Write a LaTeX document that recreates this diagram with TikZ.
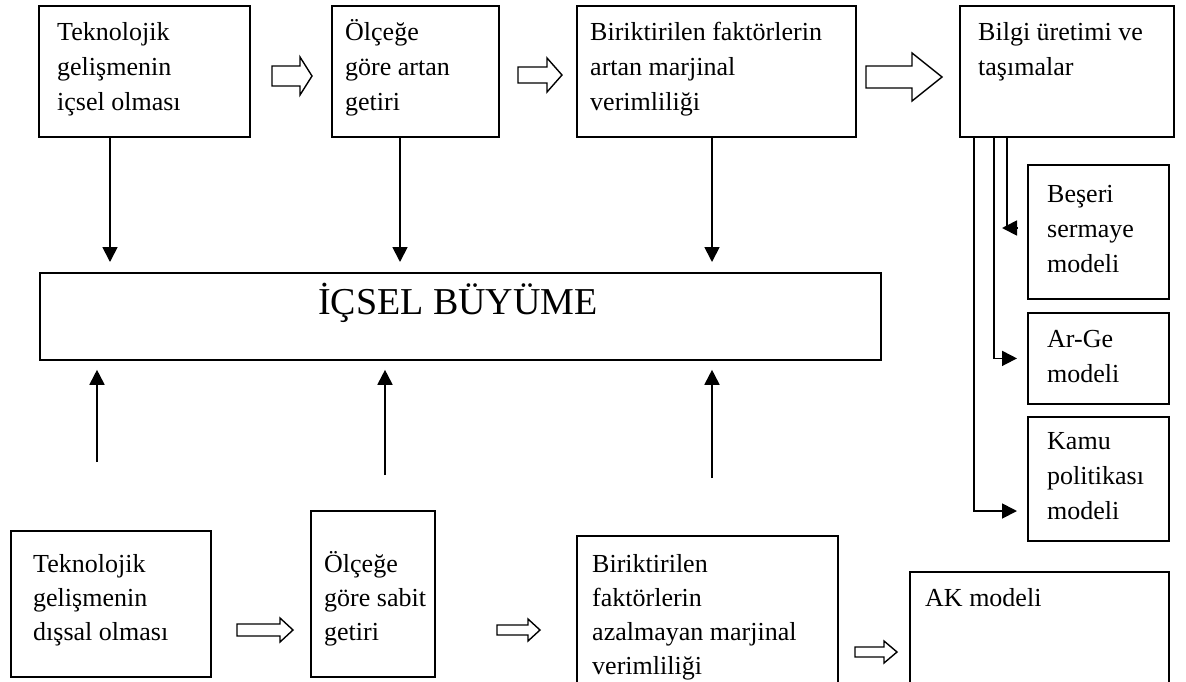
\documentclass[tikz,border=0pt]{standalone}
\usepackage{fontspec}
\setmainfont{Liberation Serif}
\usetikzlibrary{arrows.meta,calc}
\newcommand{\harr}[7]{% name, x1, x2, y, headstart, shaft half, head half
  \draw[hollow] (#2,#4-#6) -- (#5,#4-#6) -- (#5,#4-#7) -- (#3,#4) -- (#5,#4+#7) -- (#5,#4+#6) -- (#2,#4+#6) -- cycle;
  \coordinate (#1) at (#3,#4);}
\begin{document}
\begin{tikzpicture}[x=1pt,y=-1pt,
  box/.style={draw, line width=1.8pt, inner sep=0pt, anchor=north west},
  txt/.style={anchor=north west, inner sep=0pt, align=left, font=\fontsize{26}{35}\selectfont},
  btxt/.style={anchor=north west, inner sep=0pt, align=left, font=\fontsize{26}{34}\selectfont},
  conn/.style={line width=1.8pt, -{Triangle[length=15pt,width=15pt]}},
  plain/.style={line width=1.8pt},
  hollow/.style={line width=1.4pt, line join=miter, fill=white}]
\useasboundingbox (0,0) rectangle (1186,681);
\clip (0,0) rectangle (1186,681);
\fill[white] (0,0) rectangle (1186,681);

% top row
\node[box, minimum width=211pt, minimum height=131pt] (b1) at (38,5) {};
\node[txt] (t1) at (57,16) {\strut Teknolojik\\gelişmenin\\içsel olması};
\node[box, minimum width=167pt, minimum height=131pt] (b2) at (331,5) {};
\node[txt] (t2) at (345,16) {\strut Ölçeğe\\göre artan\\getiri};
\node[box, minimum width=279pt, minimum height=131pt] (b3) at (576,5) {};
\node[txt] (t3) at (590,16) {\strut Biriktirilen faktörlerin\\artan marjinal\\verimliliği};
\node[box, minimum width=214pt, minimum height=131pt] (b4) at (959,5) {};
\node[txt] (t4) at (978,16) {\strut Bilgi üretimi ve\\taşımalar};

\harr{a1}{272}{312}{76}{300}{10}{19}
\harr{a2}{518}{562}{75}{547}{8}{17}
\harr{a3}{866}{942}{77}{912}{11}{24}

% central box
\node[box, minimum width=841pt, minimum height=87pt] (cen) at (39,272) {};
\node[font=\fontsize{38}{42}\selectfont] (ct) at (458,303) {İÇSEL BÜYÜME};

% right column
\node[box, minimum width=141pt, minimum height=134pt] (b5) at (1027,164) {};
\node[txt] (t5) at (1047,178) {\strut Beşeri\\sermaye\\modeli};
\node[box, minimum width=141pt, minimum height=91pt] (b6) at (1027,312) {};
\node[txt] (t6) at (1047,323) {\strut Ar-Ge\\modeli};
\node[box, minimum width=141pt, minimum height=124pt] (b7) at (1027,416) {};
\node[txt] (t7) at (1047,425) {\strut Kamu\\politikası\\modeli};

% bottom row
\node[box, minimum width=200pt, minimum height=146pt] (c1) at (10,530) {};
\node[btxt] (s1) at (33,548) {\strut Teknolojik\\gelişmenin\\dışsal olması};
\node[box, minimum width=124pt, minimum height=166pt] (c2) at (310,510) {};
\node[btxt] (s2) at (324,548) {\strut Ölçeğe\\göre sabit\\getiri};
\node[box, minimum width=261pt, minimum height=160pt] (c3) at (576,535) {};
\node[btxt] (s3) at (592,548) {\strut Biriktirilen\\faktörlerin\\azalmayan marjinal\\verimliliği};
\node[box, minimum width=259pt, minimum height=130pt] (c4) at (909,571) {};
\node[btxt] (s4) at (925,582) {\strut AK modeli};

\harr{a4}{237}{293}{630}{280}{6}{12}
\harr{a5}{497}{540}{630}{528}{5}{11}
\harr{a6}{855}{897}{652}{884}{5}{11}

% down connectors
\coordinate (d1) at (110,0);
\coordinate (d2) at (400,0);
\coordinate (d3) at (712,0);
\draw[conn, shorten >=10pt] (b1.south -| d1) -- (cen.north -| d1);
\draw[conn, shorten >=10pt] (b2.south -| d2) -- (cen.north -| d2);
\draw[conn, shorten >=10pt] (b3.south -| d3) -- (cen.north -| d3);

% up connectors
\coordinate (u1) at (97,462);
\coordinate (u2) at (385,475);
\coordinate (u3) at (712,478);
\draw[conn, shorten >=9pt] (u1) -- (cen.south -| u1);
\draw[conn, shorten >=9pt] (u2) -- (cen.south -| u2);
\draw[conn, shorten >=9pt] (u3) -- (cen.south -| u3);

% right column connectors
\coordinate (r1) at (974,511);
\coordinate (r2) at (994,0);
\coordinate (r3) at (1007,228);
\coordinate (r3b) at (1017,228);
\draw[plain] (b4.south -| r3) -- (r3) -- (r3b);
\draw[conn] (r3b) -- ++(-15,0);
\draw[conn, shorten >=10pt] (b4.south -| r2) |- (b6.west);
\draw[conn, shorten >=10pt] (b4.south -| r1) |- (b7.west |- r1);
\end{tikzpicture}
\end{document}
